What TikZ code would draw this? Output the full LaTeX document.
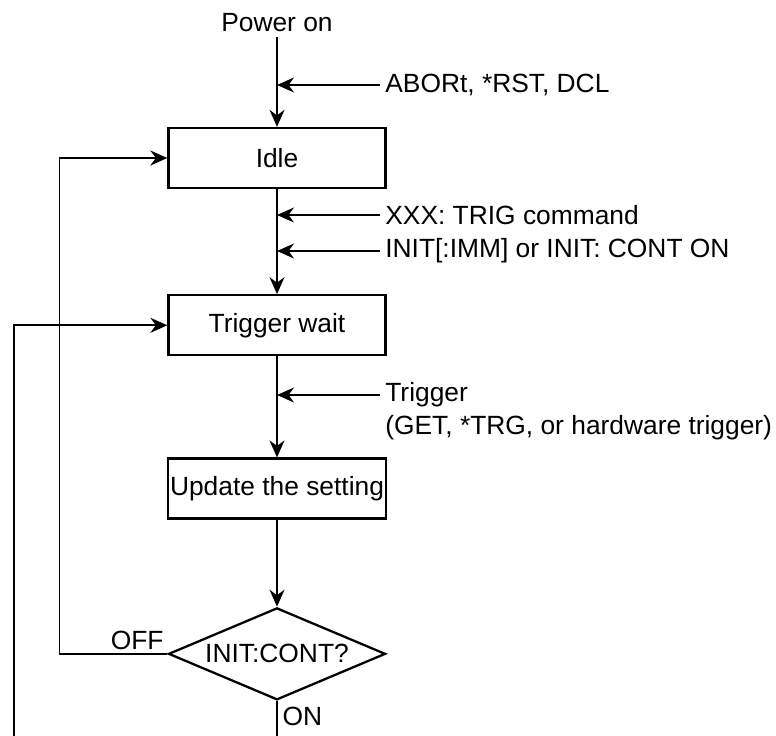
\documentclass[tikz,border=0pt]{standalone}
\usepackage{fontspec}
\setmainfont{Liberation Sans}
\usetikzlibrary{shapes.geometric, arrows.meta, positioning}

\begin{document}
\begin{tikzpicture}[
    font=\fontsize{15}{18}\selectfont,
    box/.style={
      draw,
      rectangle,
      line width=1.3pt,
      minimum width=4.34cm,
      minimum height=1.2cm,
      inner sep=1pt,
      align=center
    },
    decision/.style={
      draw,
      diamond,
      aspect=2.36,
      line width=1.3pt,
      minimum width=4.34cm,
      minimum height=1.84cm,
      inner sep=1pt
    },
    note/.style={inner sep=0.1cm, align=left},
    conn/.style={line width=0.9pt},
    every edge/.style={draw, line width=0.9pt, -{Stealth[length=0.34cm, width=0.3cm]}},
    >={Stealth[length=0.34cm, width=0.3cm]}
  ]
    \useasboundingbox (0,0) rectangle (15.52,-14.72);

    \node (idle) [box] at (5.54,-3.16) {Idle};
    \node (power) [note, above=1.8cm of idle] {Power on};
    \node (trigwait) [box, below=2.1cm of idle] {Trigger wait};
    \node (update) [box, below=2.02cm of trigwait] {Update the setting};
    \node (ifcont) [decision, below=1.74cm of update] {INIT:CONT?};

    % commands coming in from the side
    \node (abort) [note, anchor=west] at (7.6,-1.7) {ABORt, *RST, DCL};
    \node (trigcmd) [note, anchor=west] at (7.6,-4.3) {XXX: TRIG command};
    \node (initcmd) [note, anchor=west] at (7.6,-5.02) {INIT[:IMM] or INIT: CONT ON};
    \node (trig) [note, anchor=west] at (7.6,-7.9) {Trigger};
    \node (trigsrc) [note, anchor=west] at (7.6,-8.56) {(GET, *TRG, or hardware trigger)};

    \node (off) [note, inner sep=2pt, anchor=south east] at (ifcont.west) {OFF};
    \node (on) [note, inner sep=3pt, anchor=north west] at (ifcont.south) {ON};

    \coordinate (bottom) at (0,-14.72);
    \coordinate (loopend) at (0.28,-14.72);

    \draw (power) edge (idle)
          (idle) edge (trigwait)
          (trigwait) edge (update)
          (update) edge (ifcont);

    \draw[conn, ->] (abort.west) -- (abort.west -| idle.north);
    \draw[conn, ->] (trigcmd.west) -- (trigcmd.west -| idle.south);
    \draw[conn, ->] (initcmd.west) -- (initcmd.west -| idle.south);
    \draw[conn, ->] (trig.west) -- (trig.west -| trigwait.south);

    % loops back
    \draw[conn, ->] (ifcont.west) -- ++(-2.16,0) |- (idle.west);
    \draw[conn] (ifcont.south) -- (ifcont.south |- bottom);
    \draw[conn, ->] (loopend) |- (trigwait.west);
  \end{tikzpicture}
\end{document}
